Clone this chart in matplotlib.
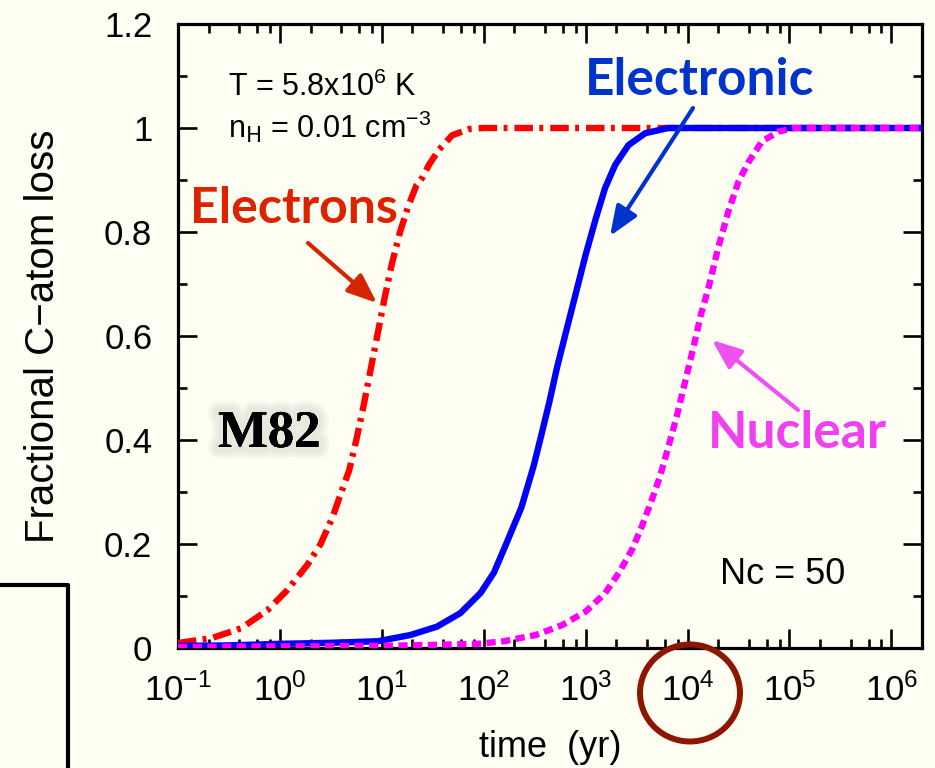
import matplotlib
matplotlib.use("Agg")
import matplotlib.pyplot as plt
from matplotlib.ticker import LogLocator, MultipleLocator, NullFormatter, FixedLocator
from matplotlib.patches import Ellipse, FancyArrowPatch
from matplotlib.lines import Line2D
import matplotlib.patheffects as pe

# ---------------- data ----------------
electrons_t = [0.1, 0.214, 0.417, 0.759, 1.19, 1.86, 2.51, 3.29, 3.98, 4.79,
               5.62, 6.61, 7.94, 9.33, 10.7, 12.6, 15.1, 18.2, 21.9, 25.1,
               29.2, 36.3, 49.0, 71.9, 100, 2e6]
electrons_f = [0.0096, 0.019, 0.038, 0.073, 0.112, 0.16, 0.20, 0.252, 0.298, 0.342,
               0.40, 0.465, 0.545, 0.615, 0.675, 0.74, 0.80, 0.85, 0.89, 0.905,
               0.93, 0.958, 0.986, 0.998, 1.0, 1.0]

electronic_t = [0.1, 0.316, 1, 3.16, 9.12, 19.1, 34.7, 58.9, 93.3, 126, 166, 234,
                309, 363, 437, 525, 646, 794, 1000, 1259, 1549, 1950, 2630, 3846,
                6457, 2e6]
electronic_f = [0.004, 0.005, 0.008, 0.010, 0.013, 0.025, 0.041, 0.067, 0.106,
                0.145, 0.20, 0.27, 0.35, 0.405, 0.47, 0.54, 0.61, 0.679, 0.756,
                0.826, 0.884, 0.929, 0.967, 0.99, 1.0, 1.0]

nuclear_t = [0.1, 1, 9.12, 31.6, 87.1, 158, 324, 589, 1000, 1549, 2113, 2851,
             3548, 4467, 5370, 6457, 7943, 9550, 11482, 13490, 16032, 19953,
             25119, 31623, 39811, 53703, 77625, 112202, 2e6]
nuclear_f = [0.002, 0.003, 0.004, 0.006, 0.008, 0.013, 0.025, 0.044, 0.07, 0.105,
             0.144, 0.189, 0.233, 0.285, 0.33, 0.385, 0.45, 0.515, 0.58, 0.64,
             0.692, 0.769, 0.839, 0.897, 0.935, 0.974, 0.993, 1.0, 1.0]

x_limits = (0.1, 2e6)
y_limits = (0, 1.2)
x_major = [0.1, 1, 10, 100, 1e3, 1e4, 1e5, 1e6]
x_labels = [r"$\mathregular{10^{-1}}$", r"$\mathregular{10^{0}}$", r"$\mathregular{10^{1}}$",
            r"$\mathregular{10^{2}}$", r"$\mathregular{10^{3}}$", r"$\mathregular{10^{4}}$",
            r"$\mathregular{10^{5}}$", r"$\mathregular{10^{6}}$"]
y_major = [0, 0.2, 0.4, 0.6, 0.8, 1.0, 1.2]
y_labels = ["0", "0.2", "0.4", "0.6", "0.8", "1", "1.2"]

# ---------------- style ----------------
W, H = 935, 768
BG = "#FEFEF3"
plt.rcParams["font.family"] = ["Liberation Sans", "DejaVu Sans"]
plt.rcParams["mathtext.default"] = "regular"

fig = plt.figure(figsize=(W / 100, H / 100), dpi=100, facecolor=BG)
ax = fig.add_axes([178 / W, 1 - 648 / H, (922 - 178) / W, (648 - 24) / H])
ax.set_facecolor(BG)


def px(x, y):
    return (x / W, 1 - y / H)


lw = 4.6
ax.plot(electrons_t, electrons_f, color="#FF0000", lw=lw,
        linestyle=(0, (2.9, 1.0, 0.6, 1.1)), zorder=3)
ax.plot(electronic_t, electronic_f, color="#0000FF", lw=lw,
        linestyle="-", solid_joinstyle="round", zorder=4)
ax.plot(nuclear_t, nuclear_f, color="#FF00FF", lw=lw,
        linestyle=(0, (1.45, 0.85)), zorder=5)

ax.set_xscale("log")
ax.set_xlim(*x_limits)
ax.set_ylim(*y_limits)
ax.xaxis.set_major_locator(FixedLocator(x_major))
ax.set_xticklabels(x_labels)
ax.xaxis.set_minor_locator(LogLocator(base=10, subs=[2, 4, 6, 8], numticks=20))
ax.xaxis.set_minor_formatter(NullFormatter())
ax.set_yticks(y_major)
ax.set_yticklabels(y_labels)
ax.yaxis.set_minor_locator(MultipleLocator(0.1))

for s in ax.spines.values():
    s.set_linewidth(2.3)
ax.tick_params(which="both", direction="in", top=True, right=True, width=1.9)
ax.tick_params(which="major", length=13.5, labelsize=25)
ax.tick_params(which="minor", length=6.5)
ax.tick_params(axis="x", which="major", pad=18)
ax.tick_params(axis="y", which="major", pad=18.5)

ax.set_xlabel("time  (yr)", fontsize=26, labelpad=16)
ax.set_ylabel("Fractional C\u2212atom loss", fontsize=29, labelpad=30)

# ---------------- annotations ----------------
fig.text(*px(228, 96), r"T = 5.8x10$^{6}$ K", fontsize=22, ha="left", va="baseline")
fig.text(*px(228, 138), r"n$_{\rm H}$ = 0.01 cm$^{-3}$", fontsize=22, ha="left", va="baseline")
fig.text(*px(720, 584), "Nc = 50", fontsize=26, ha="left", va="baseline")

label_font = ["Lato", "DejaVu Sans"]
fig.text(*px(190, 223), "Electrons", fontsize=36, fontweight="bold", color="#DD2200",
         family=label_font, ha="left", va="baseline")
fig.text(*px(585, 95), "Electronic", fontsize=37, fontweight="bold", color="#0033CC",
         family=label_font, ha="left", va="baseline")
fig.text(*px(708, 448), "Nuclear", fontsize=37, fontweight="bold", color="#F040F0",
         family=label_font, ha="left", va="baseline")

shadow = [pe.withStroke(linewidth=w, foreground="#808070", alpha=0.06) for w in (16, 12, 8)]
fig.text(*px(218, 447), "M82", fontsize=38, fontweight="bold", color="black",
         family=["Liberation Serif", "DejaVu Serif"], ha="left", va="baseline",
         path_effects=shadow + [pe.Normal()])


def arrow(tail, head, color):
    fig.add_artist(FancyArrowPatch(
        px(*tail), px(*head), transform=fig.transFigure,
        arrowstyle="-|>,head_length=1.0,head_width=0.4", mutation_scale=18,
        color=color, lw=3, shrinkA=0, shrinkB=0))


arrow((308, 243), (377, 303), "#D42400")
arrow((693, 108), (610, 236), "#0033CC")
arrow((798, 410), (712, 340), "#F050F0")

fig.add_artist(Ellipse(px(690, 693), width=100 / W, height=97 / H,
                       transform=fig.transFigure, fill=False,
                       edgecolor="#8C1600", lw=4.3))

fig.add_artist(Line2D([0, 68 / W, 68 / W], [1 - 585 / H, 1 - 585 / H, 0],
                      transform=fig.transFigure, color="black", lw=3))

fig.savefig("out.png", dpi=100, facecolor=BG)
